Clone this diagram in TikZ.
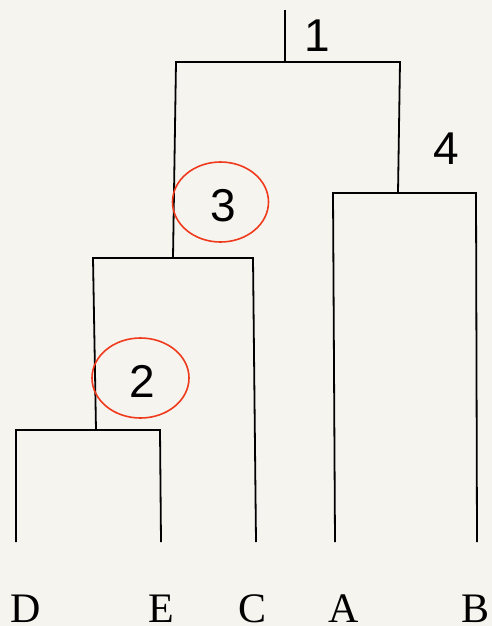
\documentclass[tikz,border=0pt]{standalone}
\usepackage{fontspec}
\usetikzlibrary{shapes.geometric}
\setmainfont{Liberation Serif}
\newfontfamily\digitfont{Liberation Sans}
\definecolor{bgcol}{HTML}{F5F4EE}
\definecolor{ringred}{HTML}{F03A1E}
\begin{document}
\begin{tikzpicture}[x=1pt,y=-1pt,
  branch/.style={draw=black,line width=1.8pt,line join=miter},
  ring/.style={draw=ringred,line width=1.6pt,ellipse,inner sep=0pt},
  num/.style={font=\digitfont\fontsize{46}{46}\selectfont,anchor=base,inner sep=0pt},
  leaf/.style={font=\fontsize{42}{42}\selectfont,anchor=base,inner sep=0pt}]
\fill[bgcol] (0,0) rectangle (492,626);
\useasboundingbox (0,0) rectangle (492,626);
% junction coordinates
\coordinate (top) at (285,10);
\coordinate (r1) at (285,62);
\coordinate (r1l) at (176,62);
\coordinate (r1r) at (400,62);
\coordinate (n3) at (173,258);
\coordinate (n3l) at (93,258);
\coordinate (n3r) at (253,258);
\coordinate (n4) at (398,193);
\coordinate (n4l) at (333,193);
\coordinate (n4r) at (476,193);
\coordinate (n2) at (96,430);
\coordinate (n2l) at (16,430);
\coordinate (n2r) at (160,430);
\coordinate (tD) at (16,542);
\coordinate (tE) at (161,542);
\coordinate (tC) at (256,542);
\coordinate (tA) at (335,542);
\coordinate (tB) at (477,542);
% tree
\draw[branch] (top) -- (r1);
\draw[branch] (n3) -- (r1l) -- (r1r) -- (n4);
\draw[branch] (n2) -- (n3l) -- (n3r) -- (tC);
\draw[branch] (n3l) -- (n3);
\draw[branch] (tA) -- (n4l) -- (n4r) -- (tB);
\draw[branch] (tD) -- (n2l) -- (n2r) -- (tE);
% rings
\node[ring,minimum width=96pt,minimum height=80pt] (c3) at (220.5,202) {};
\node[ring,minimum width=97pt,minimum height=80pt] (c2) at (140.5,378) {};
% numbers
\node[num] (l1) at (317,52) {1};
\node[num] (l4) at (446,164) {4};
\node[num] (l3) at (223,221) {3};
\node[num] (l2) at (142,397) {2};
% leaves
\node[leaf] (D) at (25.5,622) {D};
\node[leaf] (E) at (161,622) {E};
\node[leaf] (C) at (252.5,622) {C};
\node[leaf] (A) at (343.5,622) {A};
\node[leaf] (B) at (476,622) {B};
\end{tikzpicture}
\end{document}
